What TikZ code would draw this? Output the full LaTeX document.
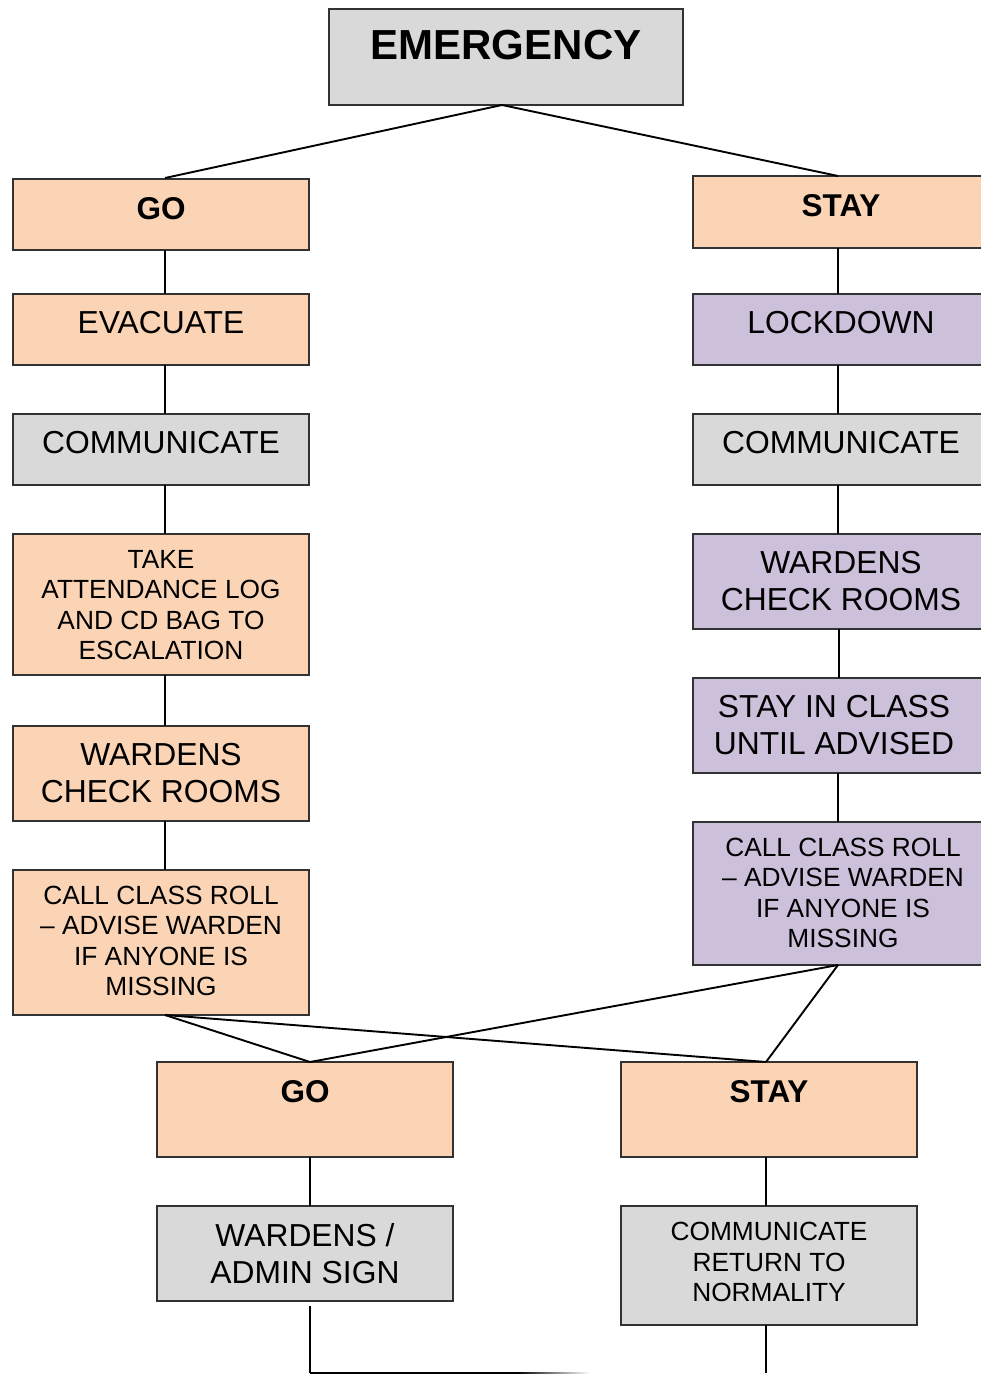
\documentclass[tikz,border=0pt]{standalone}
\usepackage{fontspec}
\setmainfont{Liberation Sans}
\definecolor{peach}{RGB}{250,212,180}
\definecolor{greybox}{RGB}{217,217,217}
\definecolor{lav}{RGB}{204,192,218}
\definecolor{edge}{RGB}{50,50,50}
\tikzset{
  box/.style={draw=edge, line width=1.3pt, minimum width=296pt, inner sep=0pt, outer sep=0pt},
  pbox/.style={box, fill=peach},
  gbox/.style={box, fill=greybox},
  lbox/.style={box, fill=lav},
  big/.style={inner sep=0pt, align=center, font=\fontsize{31.8}{37}\selectfont},
  small/.style={inner sep=0pt, align=center, font=\fontsize{26.3}{30.3}\selectfont},
  bold/.style={inner sep=0pt, align=center, font=\fontsize{31.5}{37}\selectfont\bfseries},
  conn/.style={line width=1.9pt, black}
}
\begin{document}
\begin{tikzpicture}[x=1pt,y=-1pt]
\useasboundingbox (0,0) rectangle (981,1375);
\begin{scope}
\clip (0,0) rectangle (981,1375);
% boxes
\node[gbox, minimum width=354pt, minimum height=96pt] (em) at (506,57) {};
\node[bold, font=\fontsize{42}{48}\selectfont\bfseries] at (506,45) {EMERGENCY};

\node[pbox, minimum height=71pt] (go1) at (161,214.5) {};
\node[bold] at (161,209) {GO};
\node[pbox, minimum height=72pt] (st1) at (841,212) {};
\node[bold] at (841,206) {STAY};

\node[pbox, minimum height=71pt] (evac) at (161,329.5) {};
\node[big] at (161,323) {EVACUATE};
\node[lbox, minimum height=71pt] (lock) at (841,329.5) {};
\node[big] at (841,323) {LOCKDOWN};

\node[gbox, minimum height=71pt] (comL) at (161,449.5) {};
\node[big] at (161,443) {COMMUNICATE};
\node[gbox, minimum height=71pt] (comR) at (841,449.5) {};
\node[big] at (841,443) {COMMUNICATE};

\node[pbox, minimum height=141pt] (take) at (161,604.5) {};
\node[small] at (161,605) {TAKE\\ATTENDANCE LOG\\AND CD BAG TO\\ESCALATION};
\node[lbox, minimum height=95pt] (wardR) at (841,581.5) {};
\node[big] at (841,581.5) {WARDENS\\CHECK ROOMS};

\node[pbox, minimum height=95pt] (wardL) at (161,773.5) {};
\node[big] at (161,773.5) {WARDENS\\CHECK ROOMS};
\node[lbox, minimum height=95pt] (stayin) at (841,725.5) {};
\node[big] at (834,725.5) {STAY IN CLASS\\UNTIL ADVISED};

\node[pbox, minimum height=145pt] (callL) at (161,942.5) {};
\node[small] at (161,941) {CALL CLASS ROLL\\– ADVISE WARDEN\\IF ANYONE IS\\MISSING};
\node[lbox, minimum height=143pt] (callR) at (841,893.5) {};
\node[small] at (843,893) {CALL CLASS ROLL\\– ADVISE WARDEN\\IF ANYONE IS\\MISSING};

\node[pbox, minimum height=95pt] (go2) at (305,1109.5) {};
\node[bold] at (305,1092) {GO};
\node[pbox, minimum height=95pt] (st2) at (769,1109.5) {};
\node[bold] at (769,1092) {STAY};

\node[gbox, minimum height=95pt] (admin) at (305,1253.5) {};
\node[big] at (305,1253.5) {WARDENS /\\ADMIN SIGN};
\node[gbox, minimum height=119pt] (ret) at (769,1265.5) {};
\node[small] at (769,1262) {COMMUNICATE\\RETURN TO\\NORMALITY};

% connectors
\coordinate (emB) at (502,105);
\draw[conn] (emB) -- (165,178);
\draw[conn] (emB) -- (838,176);
\draw[conn] (165,250) -- (165,294);
\draw[conn] (165,365) -- (165,414);
\draw[conn] (165,485) -- (165,534);
\draw[conn] (165,675) -- (165,726);
\draw[conn] (165,821) -- (165,870);
\draw[conn] (838,248) -- (838,294);
\draw[conn] (838,365) -- (838,414);
\draw[conn] (838,485) -- (838,534);
\draw[conn] (839,629) -- (839,678);
\draw[conn] (838,773) -- (838,822);
\coordinate (cLb) at (165,1015);
\coordinate (cRb) at (838,965);
\coordinate (go2t) at (310,1062);
\coordinate (st2t) at (766,1062);
\draw[conn] (cLb) -- (go2t);
\draw[conn] (cLb) -- (st2t);
\draw[conn] (cRb) -- (go2t);
\draw[conn] (cRb) -- (st2t);
\draw[conn] (310,1157) -- (310,1206);
\draw[conn] (766,1157) -- (766,1206);
\coordinate (adminE) at (310,1373);
\draw[conn] (310,1306) -- (adminE);
\draw[conn] (766,1325) -- (766,1373);
\draw[conn] (adminE) -- (517,1373);
\shade[left color=black, right color=white] (517,1372.05) rectangle (590,1373.95);
\end{scope}
\end{tikzpicture}
\end{document}
